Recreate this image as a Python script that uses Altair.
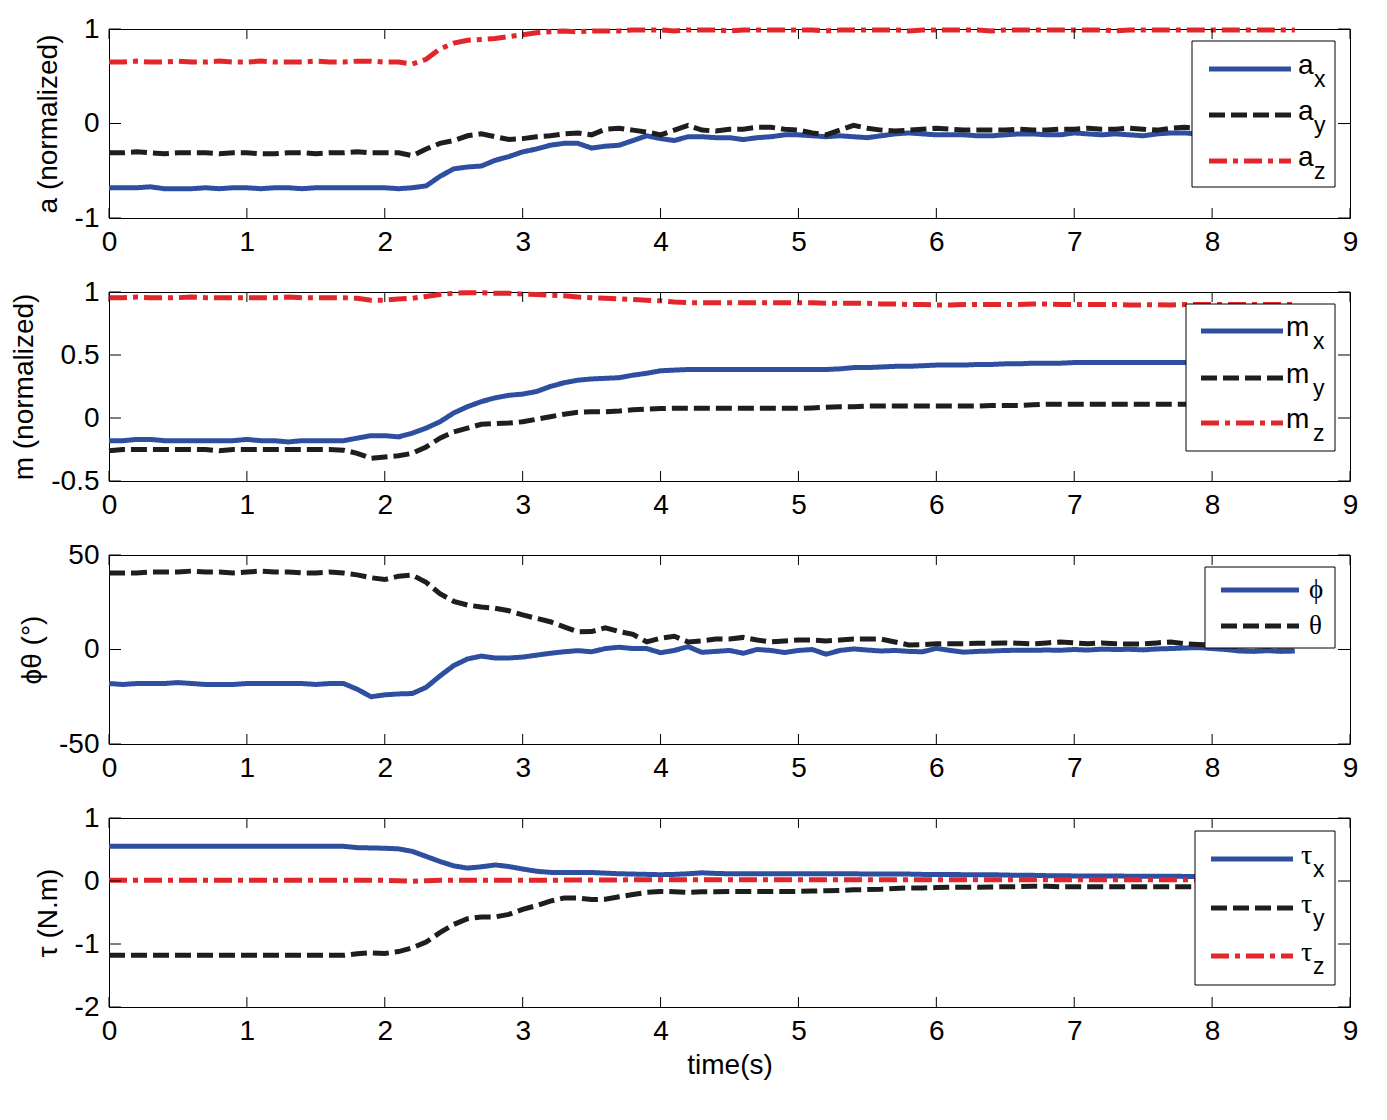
import altair as alt
import pandas as pd

# ---------------- data ----------------
T = [0.0, 0.1, 0.2, 0.3, 0.4, 0.5, 0.6, 0.7, 0.8, 0.9,
     1.0, 1.1, 1.2, 1.3, 1.4, 1.5, 1.6, 1.7, 1.8, 1.9,
     2.0, 2.1, 2.2, 2.3, 2.4, 2.5, 2.6, 2.7, 2.8, 2.9,
     3.0, 3.1, 3.2, 3.3, 3.4, 3.5, 3.6, 3.7, 3.8, 3.9,
     4.0, 4.1, 4.2, 4.3, 4.4, 4.5, 4.6, 4.7, 4.8, 4.9,
     5.0, 5.1, 5.2, 5.3, 5.4, 5.5, 5.6, 5.7, 5.8, 5.9,
     6.0, 6.1, 6.2, 6.3, 6.4, 6.5, 6.6, 6.7, 6.8, 6.9,
     7.0, 7.1, 7.2, 7.3, 7.4, 7.5, 7.6, 7.7, 7.8, 7.9,
     8.0, 8.1, 8.2, 8.3, 8.4, 8.5, 8.6]

A_X = [-0.68, -0.68, -0.68, -0.67, -0.69, -0.69, -0.69, -0.68, -0.69, -0.68,
       -0.68, -0.69, -0.68, -0.68, -0.69, -0.68, -0.68, -0.68, -0.68, -0.68,
       -0.68, -0.69, -0.68, -0.66, -0.56, -0.48, -0.46, -0.45, -0.39, -0.35,
       -0.30, -0.27, -0.23, -0.21, -0.21, -0.26, -0.24, -0.23, -0.18, -0.13,
       -0.16, -0.18, -0.14, -0.14, -0.15, -0.15, -0.17, -0.15, -0.14, -0.12,
       -0.12, -0.13, -0.14, -0.13, -0.14, -0.15, -0.13, -0.11, -0.10, -0.11,
       -0.12, -0.12, -0.12, -0.13, -0.13, -0.12, -0.11, -0.11, -0.12, -0.12,
       -0.10, -0.11, -0.12, -0.11, -0.12, -0.13, -0.11, -0.10, -0.10, -0.11,
       -0.12, -0.12, -0.11, -0.12, -0.11, -0.12, -0.12]
A_Y = [-0.31, -0.31, -0.30, -0.31, -0.32, -0.31, -0.31, -0.31, -0.32, -0.31,
       -0.31, -0.32, -0.32, -0.31, -0.31, -0.32, -0.31, -0.31, -0.30, -0.31,
       -0.31, -0.31, -0.34, -0.27, -0.21, -0.18, -0.13, -0.11, -0.14, -0.17,
       -0.16, -0.14, -0.13, -0.11, -0.10, -0.12, -0.06, -0.05, -0.07, -0.09,
       -0.12, -0.07, -0.02, -0.07, -0.08, -0.06, -0.06, -0.04, -0.04, -0.06,
       -0.07, -0.10, -0.12, -0.07, -0.02, -0.05, -0.07, -0.08, -0.07, -0.06,
       -0.05, -0.06, -0.07, -0.07, -0.07, -0.07, -0.06, -0.07, -0.07, -0.06,
       -0.06, -0.05, -0.06, -0.06, -0.05, -0.06, -0.07, -0.05, -0.04, -0.05,
       -0.03, -0.03, -0.04, -0.04, -0.05, -0.04, -0.04]
A_Z = [0.65, 0.65, 0.66, 0.65, 0.65, 0.66, 0.65, 0.65, 0.66, 0.65,
       0.65, 0.66, 0.65, 0.65, 0.65, 0.66, 0.65, 0.65, 0.66, 0.66,
       0.65, 0.65, 0.63, 0.68, 0.79, 0.85, 0.88, 0.89, 0.90, 0.92,
       0.94, 0.96, 0.97, 0.98, 0.97, 0.98, 0.98, 0.98, 0.99, 0.99,
       0.99, 0.98, 0.99, 0.99, 0.99, 0.98, 0.99, 0.99, 0.99, 0.99,
       0.99, 0.99, 0.98, 0.99, 0.99, 0.99, 0.99, 0.99, 0.98, 0.99,
       0.99, 0.99, 0.99, 0.99, 0.98, 0.99, 0.99, 0.99, 0.99, 0.99,
       0.99, 0.99, 0.99, 0.98, 0.99, 0.99, 0.99, 0.99, 0.99, 0.99,
       0.99, 0.99, 0.99, 0.99, 0.99, 0.99, 0.99]

M_X = [-0.18, -0.18, -0.17, -0.17, -0.18, -0.18, -0.18, -0.18, -0.18, -0.18,
       -0.17, -0.18, -0.18, -0.19, -0.18, -0.18, -0.18, -0.18, -0.16, -0.14,
       -0.14, -0.15, -0.12, -0.08, -0.03, 0.04, 0.09, 0.13, 0.16, 0.18,
       0.19, 0.21, 0.25, 0.28, 0.30, 0.31, 0.315, 0.32, 0.34, 0.355,
       0.375, 0.38, 0.385, 0.385, 0.385, 0.385, 0.385, 0.385, 0.385, 0.385,
       0.385, 0.385, 0.385, 0.39, 0.40, 0.40, 0.405, 0.41, 0.41, 0.415,
       0.42, 0.42, 0.42, 0.425, 0.425, 0.43, 0.43, 0.435, 0.435, 0.435,
       0.44, 0.44, 0.44, 0.44, 0.44, 0.44, 0.44, 0.44, 0.44, 0.44,
       0.44, 0.44, 0.44, 0.44, 0.44, 0.44, 0.44]
M_Y = [-0.26, -0.25, -0.25, -0.25, -0.25, -0.25, -0.25, -0.25, -0.26, -0.25,
       -0.25, -0.25, -0.25, -0.25, -0.25, -0.25, -0.25, -0.255, -0.28, -0.32,
       -0.31, -0.30, -0.28, -0.23, -0.16, -0.11, -0.08, -0.05, -0.045, -0.04,
       -0.03, -0.01, 0.01, 0.03, 0.045, 0.05, 0.05, 0.055, 0.065, 0.07,
       0.075, 0.077, 0.077, 0.077, 0.077, 0.077, 0.077, 0.077, 0.077, 0.077,
       0.077, 0.08, 0.085, 0.09, 0.09, 0.095, 0.095, 0.095, 0.095, 0.095,
       0.095, 0.095, 0.095, 0.095, 0.10, 0.10, 0.10, 0.105, 0.11, 0.11,
       0.11, 0.11, 0.11, 0.11, 0.11, 0.11, 0.11, 0.11, 0.11, 0.11,
       0.11, 0.11, 0.11, 0.11, 0.11, 0.11, 0.11]
M_Z = [0.955, 0.955, 0.96, 0.955, 0.955, 0.955, 0.96, 0.955, 0.955, 0.955,
       0.955, 0.955, 0.955, 0.96, 0.955, 0.955, 0.955, 0.955, 0.95, 0.935,
       0.935, 0.945, 0.95, 0.965, 0.98, 0.99, 0.995, 0.995, 0.99, 0.99,
       0.985, 0.98, 0.975, 0.97, 0.96, 0.955, 0.95, 0.945, 0.94, 0.935,
       0.93, 0.92, 0.915, 0.915, 0.915, 0.915, 0.915, 0.915, 0.915, 0.915,
       0.915, 0.915, 0.91, 0.91, 0.91, 0.91, 0.905, 0.905, 0.90, 0.90,
       0.897, 0.897, 0.90, 0.90, 0.90, 0.90, 0.90, 0.905, 0.905, 0.90,
       0.90, 0.90, 0.90, 0.90, 0.897, 0.897, 0.90, 0.897, 0.90, 0.90,
       0.90, 0.90, 0.90, 0.90, 0.90, 0.90, 0.90]

PHI = [-18, -18.5, -18, -18, -18, -17.5, -18, -18.5, -18.5, -18.5,
       -18, -18, -18, -18, -18, -18.5, -18, -18, -21, -25,
       -24, -23.5, -23.3, -20, -14, -8.5, -5, -3.5, -4.5, -4.5,
       -4, -3, -2, -1.2, -0.6, -1.2, 0.5, 1.2, 0.5, 0.5,
       -1.7, -0.5, 1.5, -1.5, -1, -0.5, -2, 0, -0.5, -1.6,
       -0.5, 0, -2.5, -0.5, 0.3, -0.3, -0.8, -0.5, -1, -1.2,
       0.6, -0.5, -1.4, -1, -0.8, -0.5, -0.4, -0.4, -0.3, -0.4,
       0, -0.3, 0.2, 0, 0.1, -0.2, 0.3, 0.5, 0.8, 1,
       0.5, 0, -0.8, -1, -0.6, -1, -0.8]
THETA = [40.5, 40.5, 40.5, 41, 41, 41, 41.5, 41, 41, 40.5,
         41, 41.5, 41, 41, 40.5, 40.5, 41, 40.5, 39.5, 38,
         37, 38.8, 39.4, 35.5, 29.5, 25.5, 23.5, 22.5, 21.8, 20.5,
         18.3, 16.5, 14.7, 12, 9.4, 9.5, 11.5, 9.5, 8, 4,
         6, 7, 4, 4.5, 5.5, 5.5, 6.4, 5, 4, 4.5,
         5, 5, 4.5, 5, 5.5, 5.5, 5.5, 4, 2.4, 2.6,
         3, 3, 3, 3.3, 3.3, 3.5, 3.3, 3, 3.5, 4,
         3.5, 3, 3.5, 3, 2.9, 3, 3.5, 4, 3, 2.7,
         2.2, 2, 2, 2, 1.8, 1.8, 1.8]

TAU_X = [0.55, 0.55, 0.55, 0.55, 0.55, 0.55, 0.55, 0.55, 0.55, 0.55,
         0.55, 0.55, 0.55, 0.55, 0.55, 0.55, 0.55, 0.55, 0.53, 0.525,
         0.52, 0.51, 0.47, 0.39, 0.31, 0.24, 0.205, 0.225, 0.255, 0.23,
         0.19, 0.155, 0.137, 0.135, 0.135, 0.135, 0.125, 0.115, 0.11, 0.105,
         0.10, 0.105, 0.115, 0.13, 0.12, 0.115, 0.115, 0.115, 0.115, 0.115,
         0.115, 0.115, 0.115, 0.115, 0.115, 0.11, 0.11, 0.11, 0.11, 0.105,
         0.105, 0.105, 0.10, 0.10, 0.10, 0.095, 0.09, 0.09, 0.085, 0.085,
         0.08, 0.08, 0.08, 0.078, 0.077, 0.075, 0.075, 0.075, 0.073, 0.073,
         0.072, 0.072, 0.071, 0.071, 0.07, 0.07, 0.07]
TAU_Y = [-1.18, -1.18, -1.18, -1.18, -1.18, -1.18, -1.18, -1.18, -1.18, -1.18,
         -1.18, -1.18, -1.18, -1.18, -1.18, -1.18, -1.18, -1.18, -1.155, -1.14,
         -1.15, -1.12, -1.06, -0.97, -0.82, -0.69, -0.60, -0.57, -0.57, -0.53,
         -0.45, -0.39, -0.32, -0.27, -0.27, -0.295, -0.29, -0.25, -0.215, -0.18,
         -0.165, -0.17, -0.18, -0.17, -0.17, -0.165, -0.165, -0.165, -0.165, -0.165,
         -0.165, -0.16, -0.155, -0.15, -0.14, -0.135, -0.13, -0.12, -0.11, -0.11,
         -0.105, -0.10, -0.10, -0.10, -0.095, -0.09, -0.09, -0.085, -0.085, -0.09,
         -0.09, -0.09, -0.09, -0.09, -0.09, -0.09, -0.09, -0.09, -0.09, -0.09,
         -0.09, -0.09, -0.09, -0.09, -0.09, -0.09, -0.09]
TAU_Z = [0.01, 0.01, 0.01, 0.01, 0.01, 0.01, 0.01, 0.01, 0.01, 0.01,
         0.01, 0.01, 0.01, 0.01, 0.01, 0.01, 0.01, 0.01, 0.01, 0.01,
         0.01, 0.005, -0.005, 0.005, 0.01, 0.01, 0.01, 0.01, 0.01, 0.01,
         0.01, 0.01, 0.01, 0.015, 0.015, 0.015, 0.015, 0.015, 0.02, 0.02,
         0.02, 0.02, 0.02, 0.02, 0.02, 0.02, 0.02, 0.02, 0.02, 0.02,
         0.02, 0.02, 0.02, 0.02, 0.02, 0.02, 0.02, 0.02, 0.02, 0.02,
         0.02, 0.02, 0.02, 0.02, 0.02, 0.02, 0.02, 0.02, 0.02, 0.02,
         0.02, 0.02, 0.02, 0.02, 0.02, 0.02, 0.02, 0.02, 0.02, 0.02,
         0.02, 0.02, 0.02, 0.02, 0.02, 0.02, 0.02]

X_TICKS = [0, 1, 2, 3, 4, 5, 6, 7, 8, 9]
Y_TICKS_A = [-1, 0, 1]
Y_TICKS_M = [-0.5, 0, 0.5, 1]
Y_TICKS_ANG = [-50, 0, 50]
Y_TICKS_TAU = [-2, -1, 0, 1]

# ---------------- styles ----------------
FONT = "Liberation Sans, Arial, Helvetica, sans-serif"
GREEK = "Liberation Serif, Times New Roman, serif"
BLUE = "#2E4FA0"
BLACK = "#1E1E1E"
RED = "#E3262B"
KEYS = ["1", "2", "3"]
COLORS = [BLUE, BLACK, RED]
DASHES = [[1, 0], [16, 6], [18, 6, 5, 6]]
W, H = 1241, 189
FS = 28
LW = 5

PANELS = [
    dict(title="a (normalized)", domain=[-1, 1], yticks=Y_TICKS_A,
         series=[A_X, A_Y, A_Z], labels=[("a", "x"), ("a", "y"), ("a", "z")],
         box=(1083, 1226, 12, 158), rows=[40, 86, 132], lx=(1100, 1182),
         tx=1189, sx=1205, greek=False),
    dict(title="m (normalized)", domain=[-0.5, 1], yticks=Y_TICKS_M,
         series=[M_X, M_Y, M_Z], labels=[("m", "x"), ("m", "y"), ("m", "z")],
         box=(1077, 1226, 12, 159), rows=[39, 86, 131], lx=(1092, 1174),
         tx=1177, sx=1204, greek=False),
    dict(title="ϕθ (°)", domain=[-50, 50], yticks=Y_TICKS_ANG,
         series=[PHI, THETA], labels=[("ϕ", ""), ("θ", "")],
         box=(1096, 1226, 12, 93), rows=[35, 71], lx=(1112, 1190),
         tx=1200, sx=1212, greek=True),
    dict(title="τ (N.m)", domain=[-2, 1], yticks=Y_TICKS_TAU,
         series=[TAU_X, TAU_Y, TAU_Z], labels=[("τ", "x"), ("τ", "y"), ("τ", "z")],
         box=(1086, 1226, 13, 167), rows=[41, 90, 138], lx=(1102, 1184),
         tx=1192, sx=1204, greek=False),
]

ONE = pd.DataFrame({"k": [0]})


def panel(p, bottom):
    frames = [pd.DataFrame({"t": T, "v": vals, "s": KEYS[i]}) for i, vals in enumerate(p["series"])]
    df = pd.concat(frames, ignore_index=True)
    xs = alt.Scale(domain=[0, 9], nice=False, zero=False)
    ys = alt.Scale(domain=p["domain"], nice=False, zero=False)

    xaxis = alt.Axis(values=X_TICKS, grid=False, ticks=False, tickSize=0, domain=False,
                     labelFontSize=FS, labelFont=FONT, labelColor="black", labelPadding=10,
                     labelFlush=False, labelOverlap=False,
                     labelExpr="toString(datum.value)",
                     title="time(s)" if bottom else None,
                     titleFontSize=FS, titleFont=FONT, titleColor="black",
                     titleFontWeight="normal", titlePadding=6)
    yaxis = alt.Axis(values=p["yticks"], grid=False, ticks=False, tickSize=0, domain=False,
                     labelFontSize=FS, labelFont=FONT, labelColor="black", labelPadding=10,
                     labelFlush=False, labelOverlap=False,
                     labelExpr="toString(datum.value)", title=p["title"],
                     titleFontSize=FS, titleFont=FONT, titleColor="black",
                     titleFontWeight="normal", titlePadding=12)

    lines = alt.Chart(df).mark_line(strokeWidth=LW, strokeCap="butt").encode(
        x=alt.X("t:Q", scale=xs, axis=xaxis),
        y=alt.Y("v:Q", scale=ys, axis=yaxis),
        color=alt.Color("s:N", scale=alt.Scale(domain=KEYS, range=COLORS), legend=None),
        strokeDash=alt.StrokeDash("s:N", scale=alt.Scale(domain=KEYS, range=DASHES), legend=None),
        order=alt.Order("t:Q"),
    )

    xt = pd.DataFrame({"t": X_TICKS})
    yt = pd.DataFrame({"v": p["yticks"]})
    tick_x_bot = alt.Chart(xt).mark_rule(color="black", strokeWidth=1).encode(
        x=alt.X("t:Q", scale=xs), y=alt.value(H - 10), y2=alt.value(H))
    tick_x_top = alt.Chart(xt).mark_rule(color="black", strokeWidth=1).encode(
        x=alt.X("t:Q", scale=xs), y=alt.value(0), y2=alt.value(10))
    tick_y_l = alt.Chart(yt).mark_rule(color="black", strokeWidth=1).encode(
        y=alt.Y("v:Q", scale=ys), x=alt.value(0), x2=alt.value(12))
    tick_y_r = alt.Chart(yt).mark_rule(color="black", strokeWidth=1).encode(
        y=alt.Y("v:Q", scale=ys), x=alt.value(W - 12), x2=alt.value(W))

    x1, x2, y1, y2 = p["box"]
    layers = [lines, tick_x_bot, tick_x_top, tick_y_l, tick_y_r]
    layers.append(alt.Chart(ONE).mark_rect(fill="white", stroke="black", strokeWidth=1).encode(
        x=alt.value(x1), x2=alt.value(x2), y=alt.value(y1), y2=alt.value(y2)))
    for i, ((main, sub), ry) in enumerate(zip(p["labels"], p["rows"])):
        layers.append(alt.Chart(ONE).mark_rule(color=COLORS[i], strokeWidth=LW, strokeDash=DASHES[i]).encode(
            x=alt.value(p["lx"][0]), x2=alt.value(p["lx"][1]), y=alt.value(ry)))
        if p["greek"]:
            layers.append(alt.Chart(ONE).mark_text(text=main, font=GREEK, fontSize=27, color="black",
                                                   align="left", baseline="alphabetic").encode(
                x=alt.value(p["tx"]), y=alt.value(ry + 8)))
        else:
            mfont = GREEK if main == "τ" else FONT
            layers.append(alt.Chart(ONE).mark_text(text=main, font=mfont, fontSize=FS, color="black",
                                                   align="left", baseline="alphabetic").encode(
                x=alt.value(p["tx"]), y=alt.value(ry + 5)))
            layers.append(alt.Chart(ONE).mark_text(text=sub, font=FONT, fontSize=23, color="black",
                                                   align="left", baseline="alphabetic").encode(
                x=alt.value(p["sx"]), y=alt.value(ry + 18)))
    return alt.layer(*layers).properties(width=W, height=H)


charts = [panel(p, i == len(PANELS) - 1) for i, p in enumerate(PANELS)]
chart = alt.vconcat(*charts, spacing=74).properties(
    bounds="flush",
    padding={"left": 2, "top": 6, "right": 5, "bottom": 5},
    background="white",
).resolve_scale(y="independent").configure_view(stroke="black", strokeWidth=1)

chart.save("out.html", embed_options={"renderer": "svg", "actions": False})
